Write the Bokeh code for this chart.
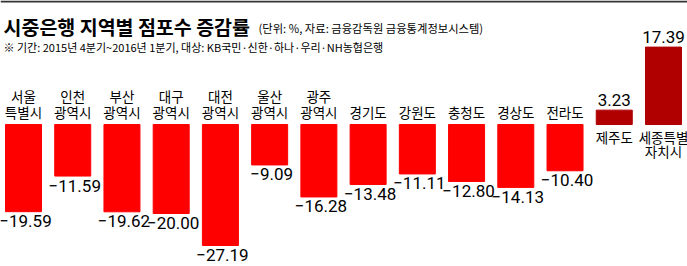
from bokeh.plotting import figure
from bokeh.models import ColumnDataSource, Label, BoxAnnotation
from bokeh.core.properties import value
from bokeh.embed import file_html
from bokeh.resources import INLINE

# ---- data ----
regions = ["서울\n특별시", "인천\n광역시", "부산\n광역시", "대구\n광역시", "대전\n광역시",
           "울산\n광역시", "광주\n광역시", "경기도", "강원도", "충청도", "경상도", "전라도",
           "제주도", "세종특별\n자치시"]
values = [-19.59, -11.59, -19.62, -20.00, -27.19, -9.09, -16.28, -13.48, -11.11,
          -12.80, -14.13, -10.40, 3.23, 17.39]
title_text = "시중은행 지역별 점포수 증감률"
unit_text = "(단위: %, 자료: 금융감독원 금융통계정보시스템)"
note_text = "※ 기간: 2015년 4분기~2016년 1분기, 대상: KB국민·신한·하나·우리·NH농협은행"

# ---- layout constants ----
W, H = 687, 266
BASE_PX = 124.0      # pixel row of the zero line
SCALE = 4.45         # pixels per percentage point
X0_PX = 23.0         # pixel center of first bar
PITCH = 49.23        # pixels between bar centres

def px_to_y(py):
    return (BASE_PX - py) / SCALE

def px_to_x(px):
    return (px - X0_PX) / PITCH

x_range = (px_to_x(0), px_to_x(W))
y_range = (px_to_y(H), px_to_y(0))

KR = "Noto Sans CJK KR"
NUM = "Roboto"

xs = list(range(len(values)))
neg_color, pos_color = "#ff0000", "#b00000"
colors = [neg_color if v < 0 else pos_color for v in values]

def fmt(v):
    return ("\u2212" if v < 0 else "") + f"{abs(v):.2f}"

src = ColumnDataSource(dict(x=xs, v=values, color=colors,
                            label=[fmt(v) for v in values], region=regions,
                            zero=[0] * len(values)))
neg = ColumnDataSource({k: [c for c, v in zip(col, values) if v < 0] for k, col in src.data.items()})
pos = ColumnDataSource({k: [c for c, v in zip(col, values) if v >= 0] for k, col in src.data.items()})

p = figure(width=W, height=H, x_range=x_range, y_range=y_range,
           output_backend="svg", toolbar_location=None, min_border=0,
           x_axis_location=None, y_axis_location=None)
p.grid.visible = False
p.outline_line_color = None
p.background_fill_color = "white"
p.border_fill_color = "white"

p.vbar(x="x", top="v", bottom=0, width=36 / PITCH, color="color", source=src,
       line_color="color")

# value labels
p.text(x="x", y="v", text="label", source=neg, text_align="center",
       text_baseline="middle", x_offset=2, y_offset=9.5, text_font=value(NUM),
       text_font_size="17px", text_color="black")
p.text(x="x", y="v", text="label", source=pos, text_align="center",
       text_baseline="middle", y_offset=-10.5, text_font=value(NUM),
       text_font_size="17px", text_color="black")

# region labels
p.text(x="x", y="zero", text="region", source=neg, text_align="center",
       text_baseline="bottom", y_offset=-3, text_font=value(KR),
       text_font_size="13.5px", text_line_height=0.8, text_color="black")
p.text(x="x", y="zero", text="region", source=pos, text_align="center",
       text_baseline="top", y_offset=2, text_font=value(KR),
       text_font_size="13.5px", text_line_height=0.72, text_color="black")

# top rule
p.add_layout(BoxAnnotation(top=px_to_y(0), bottom=px_to_y(2), fill_color="#333333",
                           fill_alpha=1, line_color=None))

p.add_layout(Label(x=px_to_x(3), y=px_to_y(26), text=title_text, text_font=KR,
                   text_font_size="19.5px", text_font_style="bold",
                   text_baseline="alphabetic", text_color="black"))
p.add_layout(Label(x=px_to_x(258), y=px_to_y(27), text=unit_text, text_font=KR,
                   text_font_size="11.3px", text_baseline="alphabetic",
                   text_color="black"))
p.add_layout(Label(x=px_to_x(3), y=px_to_y(46), text=note_text, text_font=KR,
                   text_font_size="11px", text_baseline="alphabetic",
                   text_color="black"))

open("out.html", "w").write(file_html(p, INLINE))
